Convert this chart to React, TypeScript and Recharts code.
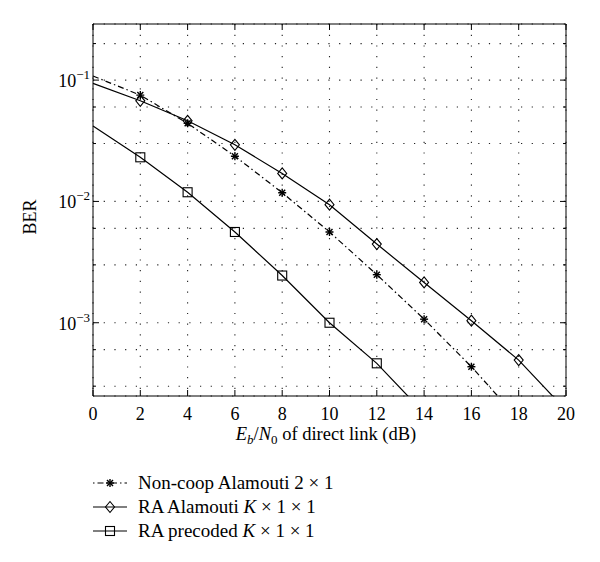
import { LineChart, Line, XAxis, YAxis, CartesianGrid } from "recharts";

// Eb/N0 (dB) and BER values
const snr = [0, 2, 4, 6, 8, 10, 12, 14, 16, 18, 20];
const nonCoop = [0.108, 0.0752, 0.044, 0.0236, 0.0118, 0.0056, 0.00249, 0.00107, 0.000434, 0.00016, null];
const raAlamouti = [0.094, 0.0675, 0.0462, 0.0293, 0.017, 0.0094, 0.00445, 0.00215, 0.00104, 0.000492, 0.00019];
const raPrecoded = [0.0418, 0.0231, 0.0119, 0.0056, 0.00245, 0.001, 0.000463, 0.00018, null, null, null];

const seriesNames = ["Non-coop Alamouti 2 × 1", "RA Alamouti K × 1 × 1", "RA precoded K × 1 × 1"];

const xTicks = [0, 2, 4, 6, 8, 10, 12, 14, 16, 18, 20];
const yMajor = [0.001, 0.01, 0.1];
const yTicks = [
  0.0003, 0.0004, 0.0005, 0.0006, 0.0007, 0.0008, 0.0009,
  0.001, 0.002, 0.003, 0.004, 0.005, 0.006, 0.007, 0.008, 0.009,
  0.01, 0.02, 0.03, 0.04, 0.05, 0.06, 0.07, 0.08, 0.09,
  0.1, 0.2,
];
const yDomain = [0.000249, 0.29];

const data = snr.map((x, i) => ({
  x,
  nonCoop: nonCoop[i],
  raAlamouti: raAlamouti[i],
  raPrecoded: raPrecoded[i],
}));

const FONT = "'Liberation Serif', 'DejaVu Serif', serif";

const hidden = (p: any) => p.payload.x === 0 || p.value == null || p.value < yDomain[0] || p.cx == null;

const Star = ({ cx, cy }: any) => (
  <g stroke="#000" strokeWidth={1.4}>
    <line x1={cx - 4} x2={cx + 4} y1={cy} y2={cy} />
    <line x1={cx} x2={cx} y1={cy - 4} y2={cy + 4} />
    <line x1={cx - 3} x2={cx + 3} y1={cy - 3} y2={cy + 3} />
    <line x1={cx - 3} x2={cx + 3} y1={cy + 3} y2={cy - 3} />
  </g>
);
const Diamond = ({ cx, cy }: any) => (
  <path d={`M${cx},${cy - 5.5}L${cx + 4.5},${cy}L${cx},${cy + 5.5}L${cx - 4.5},${cy}Z`} fill="none" stroke="#000" strokeWidth={1.1} />
);
const Square = ({ cx, cy }: any) => (
  <rect x={cx - 4.5} y={cy - 4.5} width={9} height={9} fill="none" stroke="#000" strokeWidth={1.1} />
);

const dotOf = (M: any) => (p: any) =>
  hidden(p) ? <g key={p.key} /> : <M key={p.key} cx={p.cx} cy={p.cy} />;

const LeftTick = ({ x, y, payload }: any) => {
  const major = yMajor.includes(payload.value);
  const exp = Math.round(Math.log10(payload.value));
  return (
    <g>
      <line x1={x} x2={x + (major ? 6 : 3)} y1={y} y2={y} stroke="#000" />
      {major && (
        <text x={x - 3} y={y + 7} textAnchor="end" fontSize={18} fontFamily={FONT} fill="#000">
          10
          <tspan dy={-8} fontSize={13}>{"−" + Math.abs(exp)}</tspan>
        </text>
      )}
    </g>
  );
};
const RightTick = ({ x, y, payload }: any) => {
  const major = yMajor.includes(payload.value);
  return <line x1={x} x2={x - (major ? 6 : 3)} y1={y} y2={y} stroke="#000" />;
};
const BottomTick = ({ x, y, payload }: any) => (
  <g>
    <line x1={x} x2={x} y1={y} y2={y - 6} stroke="#000" />
    <text x={x} y={y + 24} textAnchor="middle" fontSize={18} fontFamily={FONT} fill="#000">
      {payload.value}
    </text>
  </g>
);
const TopTick = ({ x, y }: any) => <line x1={x} x2={x} y1={y} y2={y + 6} stroke="#000" />;

const XLabel = () => (
  <text x={326} y={440} textAnchor="middle" fontSize={18.5} fontFamily={FONT} fill="#000">
    <tspan fontStyle="italic">E</tspan>
    <tspan fontStyle="italic" fontSize={13} dy={4}>b</tspan>
    <tspan dy={-4}>/</tspan>
    <tspan fontStyle="italic">N</tspan>
    <tspan fontSize={13} dy={4}>0</tspan>
    <tspan dy={-4}> of direct link (dB)</tspan>
  </text>
);
const YLabel = () => (
  <text x={0} y={0} transform="translate(36,217) rotate(-90)" textAnchor="middle" fontSize={18} fontFamily={FONT} fill="#000">
    BER
  </text>
);

const LegendName = ({ name, x, y }: any) => {
  const parts = name.split("K");
  return (
    <text x={x} y={y + 6} fontSize={19} fontFamily={FONT} fill="#000">
      {parts.map((s: string, i: number) => (
        <tspan key={i}>
          {i > 0 && <tspan fontStyle="italic">K</tspan>}
          {s}
        </tspan>
      ))}
    </text>
  );
};

const legendRows = [483, 507, 531];

export default function App() {
  return (
    <div style={{ position: "absolute", left: 0, top: 0, width: 600, height: 562, background: "#fff" }}>
      <LineChart width={600} height={562} data={data} margin={{ top: 23, right: 33, left: 0, bottom: 106 }}>
        <CartesianGrid stroke="#222" strokeWidth={1.1} strokeDasharray="1.2 9.5" />
        <XAxis
          dataKey="x"
          type="number"
          domain={[0, 20]}
          ticks={xTicks}
          height={60}
          tickSize={0}
          tickMargin={0}
          tickLine={false}
          axisLine={{ stroke: "#000" }}
          tick={<BottomTick />}
          label={<XLabel />}
        />
        <XAxis
          xAxisId="top"
          orientation="top"
          dataKey="x"
          type="number"
          domain={[0, 20]}
          ticks={xTicks}
          height={1}
          tickSize={0}
          tickMargin={0}
          tickLine={false}
          axisLine={{ stroke: "#000" }}
          tick={<TopTick />}
        />
        <YAxis
          type="number"
          scale="log"
          domain={yDomain}
          allowDataOverflow
          ticks={yTicks}
          width={93}
          tickSize={0}
          tickMargin={0}
          tickLine={false}
          axisLine={{ stroke: "#000" }}
          tick={<LeftTick />}
          label={<YLabel />}
        />
        <YAxis
          yAxisId="right"
          orientation="right"
          type="number"
          scale="log"
          domain={yDomain}
          allowDataOverflow
          ticks={yTicks}
          width={1}
          tickSize={0}
          tickMargin={0}
          tickLine={false}
          axisLine={{ stroke: "#000" }}
          tick={<RightTick />}
        />
        <Line
          type="linear"
          dataKey="nonCoop"
          stroke="#000"
          strokeWidth={1.2}
          strokeDasharray="6 3 1.5 3"
          dot={dotOf(Star)}
          isAnimationActive={false}
        />
        <Line type="linear" dataKey="raAlamouti" stroke="#000" strokeWidth={1.2} dot={dotOf(Diamond)} isAnimationActive={false} />
        <Line type="linear" dataKey="raPrecoded" stroke="#000" strokeWidth={1.2} dot={dotOf(Square)} isAnimationActive={false} />
      </LineChart>
      <svg width={600} height={562} style={{ position: "absolute", left: 0, top: 0, pointerEvents: "none" }}>
        {seriesNames.map((name, i) => {
          const y = legendRows[i];
          return (
            <g key={name}>
              {i === 0 ? (
                <line x1={93} x2={127} y1={y} y2={y} stroke="#000" strokeWidth={1.2} strokeDasharray="1.5 3 6 3" />
              ) : (
                <line x1={93} x2={127} y1={y} y2={y} stroke="#000" strokeWidth={1.2} />
              )}
              {i === 0 && <Star cx={110} cy={y} />}
              {i === 1 && <Diamond cx={110} cy={y} />}
              {i === 2 && <Square cx={110} cy={y} />}
              <LegendName name={name} x={138} y={y} />
            </g>
          );
        })}
      </svg>
    </div>
  );
}
